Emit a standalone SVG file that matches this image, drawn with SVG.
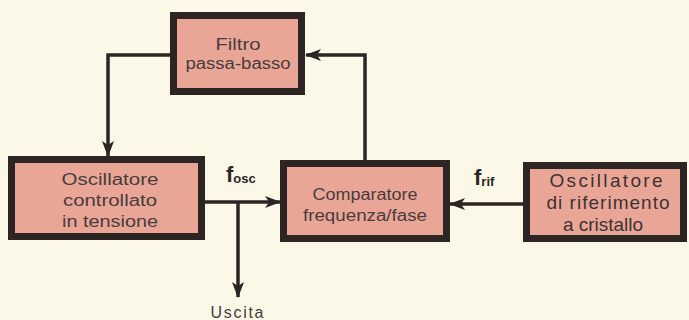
<svg xmlns="http://www.w3.org/2000/svg" width="689" height="320" viewBox="0 0 689 320">
<style>
.box{fill:#e9a697;stroke:#2c2524;stroke-width:7}
.t{font-family:"Liberation Sans",Arial,sans-serif;font-size:16px;fill:#4a3b3c;text-anchor:middle}
.k{font-size:19px;fill:#3e3233}
.c{fill:none;stroke:#2c2524;stroke-width:3.5;marker-end:url(#ah)}
.f{font-family:"Liberation Sans",Arial,sans-serif;fill:#2c2524;font-weight:bold}
</style>
<defs>
<marker id="ah" markerUnits="userSpaceOnUse" markerWidth="16" markerHeight="14" viewBox="0 0 16 14" refX="15" refY="7" orient="auto">
<path d="M0,1 L16,7 L0,13 L4,7 Z" fill="#2c2524"/>
</marker>
</defs>
<rect width="689" height="320" fill="#fbf8e7"/>
<g id="connectors">
<path class="c" d="M170,55 H108 V156"/>
<path class="c" d="M365,160 V55 H306"/>
<path class="c" d="M205,202 H280"/>
<path class="c" d="M238,202 V297"/>
<path class="c" d="M523,204 H450"/>
</g>
<g id="filtro">
<rect class="box" x="173.5" y="15.5" width="128" height="76"/>
<text class="t" x="238" y="50" textLength="45" lengthAdjust="spacingAndGlyphs">Filtro</text>
<text class="t" x="238" y="69" textLength="105" lengthAdjust="spacingAndGlyphs">passa-basso</text>
</g>
<g id="vco">
<rect class="box" x="11.5" y="159.5" width="190" height="77"/>
<text class="t" x="110" y="185" textLength="97" lengthAdjust="spacingAndGlyphs">Oscillatore</text>
<text class="t" x="110" y="206" textLength="94" lengthAdjust="spacingAndGlyphs">controllato</text>
<text class="t" x="110" y="227" textLength="96" lengthAdjust="spacingAndGlyphs">in tensione</text>
</g>
<g id="comparatore">
<rect class="box" x="283.5" y="163.5" width="163" height="75"/>
<text class="t" x="365" y="200" textLength="105" lengthAdjust="spacingAndGlyphs">Comparatore</text>
<text class="t" x="365" y="221" textLength="124" lengthAdjust="spacingAndGlyphs">frequenza/fase</text>
</g>
<g id="cristallo">
<rect class="box" x="526.5" y="165.5" width="157" height="73"/>
<text class="t k" x="606" y="187" textLength="113" lengthAdjust="spacing">Oscillatore</text>
<text class="t k" x="608" y="209" textLength="123" lengthAdjust="spacing">di riferimento</text>
<text class="t k" x="603" y="231" textLength="80" lengthAdjust="spacing">a cristallo</text>
</g>
<g id="labels">
<text class="f" x="226" y="182" font-size="22">f<tspan font-size="13" dy="1">osc</tspan></text>
<text class="f" x="474" y="185" font-size="22">f<tspan font-size="13" dy="1">rif</tspan></text>
<text class="t" x="237" y="318" textLength="53" lengthAdjust="spacing" font-size="18">Uscita</text>
</g>
</svg>
